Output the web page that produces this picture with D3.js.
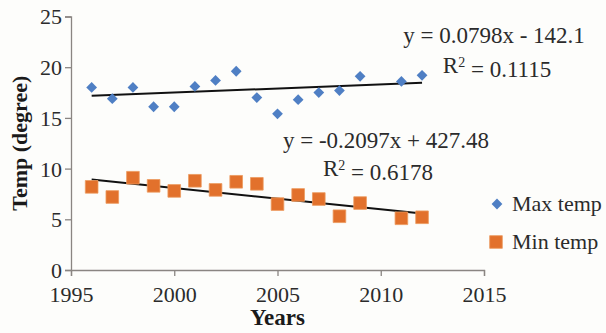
<!DOCTYPE html>
<html>
<head>
<meta charset="utf-8">
<script src="https://cdn.jsdelivr.net/npm/d3@7"></script>
<style>
  html, body { margin: 0; padding: 0; background: #fdfdfb; }
  svg { display: block; }
  svg text { font-family: "Liberation Serif", "DejaVu Serif", serif; }
</style>
</head>
<body>
<svg id="chart" width="606" height="333"></svg>
<script>
const maxYears = [1996,1997,1998,1999,2000,2001,2002,2003,2004,2005,2006,2007,2008,2009,2011,2012];
const maxTemp  = [18.0,16.9,18.0,16.1,16.1,18.1,18.7,19.6,17.0,15.4,16.8,17.5,17.7,19.1,18.6,19.2];
const minYears = [1996,1997,1998,1999,2000,2001,2002,2003,2004,2005,2006,2007,2008,2009,2011,2012];
const minTemp  = [8.2,7.2,9.1,8.3,7.8,8.8,7.9,8.7,8.5,6.5,7.4,7.0,5.3,6.6,5.1,5.2];
const maxTrend = [0.0798, -142.1];   // slope, intercept
const minTrend = [-0.2097, 427.48];
const trendRange = [1996, 2012];
const xTicks = [1995, 2000, 2005, 2010, 2015];
const yTicks = [0, 5, 10, 15, 20, 25];
const seriesNames = ["Max temp", "Min temp"];
const eqLabels = ["y = 0.0798x - 142.1", "R\u00B2 = 0.1115", "y = -0.2097x + 427.48", "R\u00B2 = 0.6178"];

const svg = d3.select("#chart");
const m = {left: 71, top: 16.5, right: 122, bottom: 63};
const W = 606, H = 333;
const x = d3.scaleLinear().domain([1995, 2015]).range([m.left, W - m.right]);
const y = d3.scaleLinear().domain([0, 25]).range([H - m.bottom, m.top]);

const axisColor = "#8a8582";
const textColor = "#2b2b2b";
const serif = '"Liberation Serif", "DejaVu Serif", serif';

// axes
const gx = svg.append("g").attr("transform", `translate(0,${y(0)})`)
  .call(d3.axisBottom(x).tickValues(xTicks).tickFormat(d3.format("d")).tickSize(6).tickPadding(6));
const gy = svg.append("g").attr("transform", `translate(${x(1995)},0)`)
  .call(d3.axisLeft(y).tickValues(yTicks).tickSize(6).tickPadding(3));
[gx, gy].forEach(g => {
  g.attr("font-family", serif).attr("font-size", 22);
  g.select(".domain").attr("stroke", axisColor).attr("stroke-width", 1.3);
  g.selectAll(".tick line").attr("stroke", axisColor).attr("stroke-width", 1.3);
  g.selectAll(".tick text").attr("fill", textColor)
    .attr("font-family", serif).attr("font-size", 22);
});
gx.selectAll(".tick text").attr("dy", "0.9em");
gy.selectAll(".tick text").attr("dy", "0.34em");

// trendlines
function trendLine(coef) {
  return trendRange.map(yr => [x(yr), y(coef[0] * yr + coef[1])]);
}
[maxTrend, minTrend].forEach(c => {
  svg.append("path").attr("d", d3.line()(trendLine(c)))
    .attr("stroke", "#111").attr("stroke-width", 2).attr("fill", "none");
});

// markers
const diamond = d3.symbol().type(d3.symbolSquare).size(58);
const square = d3.symbol().type(d3.symbolSquare).size(160);
const blue = "#4f7fc4", orange = "#e2712c";

svg.append("g").selectAll("path").data(maxYears.map((yr, i) => [yr, maxTemp[i]]))
  .join("path").attr("d", diamond)
  .attr("transform", d => `translate(${x(d[0])},${y(d[1])}) rotate(45)`)
  .attr("fill", blue);

svg.append("g").selectAll("path").data(minYears.map((yr, i) => [yr, minTemp[i]]))
  .join("path").attr("d", square)
  .attr("transform", d => `translate(${x(d[0])},${y(d[1])})`)
  .attr("fill", orange).attr("stroke", "#ec9a5e").attr("stroke-width", 0.8);

// equation labels
const eqPos = [[494, 43], [497, 73], [386, 148], [378, 176]];
eqLabels.forEach((t, i) => {
  const txt = svg.append("text").attr("x", eqPos[i][0]).attr("y", eqPos[i][1])
    .attr("text-anchor", "middle").attr("fill", textColor).attr("font-size", 23);
  if (t.startsWith("R")) {
    txt.append("tspan").text("R");
    txt.append("tspan").text("2").attr("dy", "-0.42em").attr("font-size", 14);
    txt.append("tspan").text(t.slice(1).replace("\u00B2", "")).attr("dy", "0.42em");
  } else {
    txt.text(t);
  }
});

// axis titles
svg.append("text").attr("x", x(2005)).attr("y", 325).attr("text-anchor", "middle")
  .attr("fill", "#1a1a1a").attr("font-size", 23).attr("font-weight", "bold").text("Years");
svg.append("text").attr("transform", `translate(27,${(y(0) + y(25)) / 2}) rotate(-90)`)
  .attr("text-anchor", "middle").attr("fill", "#1a1a1a")
  .attr("font-size", 22).attr("font-weight", "bold").text("Temp (degree)");

// legend
const leg = svg.append("g");
leg.append("path").attr("d", diamond).attr("transform", "translate(497,204) rotate(45)").attr("fill", blue);
leg.append("text").attr("x", 512).attr("y", 211).attr("fill", textColor).attr("font-size", 22).text(seriesNames[0]);
leg.append("path").attr("d", square).attr("transform", "translate(496,242)")
  .attr("fill", orange).attr("stroke", "#ec9a5e").attr("stroke-width", 0.8);
leg.append("text").attr("x", 512).attr("y", 249).attr("fill", textColor).attr("font-size", 22).text(seriesNames[1]);
</script>
</body>
</html>
